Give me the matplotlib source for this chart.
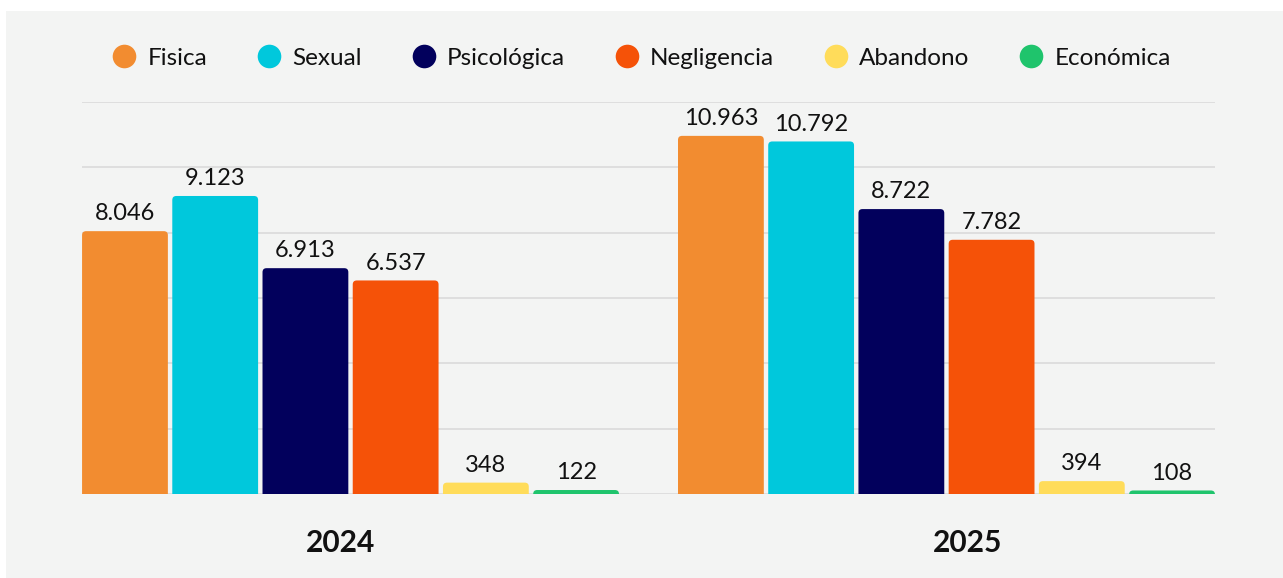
import numpy as np
import matplotlib.pyplot as plt
from matplotlib.lines import Line2D
from matplotlib.patches import Rectangle, FancyBboxPatch

plt.rcParams['font.family'] = ['Lato', 'DejaVu Sans']

# data
years = ["2024", "2025"]
categories = ["Fisica", "Sexual", "Psicológica", "Negligencia", "Abandono", "Económica"]
fisica = [8046, 10963]
sexual = [9123, 10792]
psicologica = [6913, 8722]
negligencia = [6537, 7782]
abandono = [348, 394]
economica = [122, 108]
colors = ["#f28c30", "#00c8dc", "#02005c", "#f55208", "#ffdc5a", "#1fc46c"]

series = [fisica, sexual, psicologica, negligencia, abandono, economica]

fig = plt.figure(figsize=(12.83, 5.78), dpi=100)
fig.patch.set_facecolor("white")
# light gray panel behind everything
fig.patches.append(Rectangle((6 / 1283, 0), 1, 1 - 11 / 578, transform=fig.transFigure,
                             facecolor="#f3f4f3", edgecolor="none", zorder=-1))

ax = fig.add_axes([82 / 1283, 1 - 494 / 578, (1215 - 82) / 1283, (494 - 102) / 578])
ax.set_facecolor("none")
ax.set_zorder(2)

x = np.arange(len(years))
step = 0.1514
width = 0.144
ylim = 12000

# px per data unit, used to get round corners of the same size on both axes
px_x = (1215 - 82) / (1 + 2 * 0.4506)
px_y = (494 - 102) / ylim
r = 4 / px_x

for i, (vals, col) in enumerate(zip(series, colors)):
    pos = x + (i - 2.5) * step
    bars = ax.bar(pos, vals, width, color=col, alpha=0)
    for b, v in zip(bars, vals):
        ry = 4 / px_y
        p = FancyBboxPatch((b.get_x(), -ry), b.get_width(), v + ry,
                           boxstyle=f"round,pad=0,rounding_size={r}",
                           mutation_aspect=px_x / px_y,
                           facecolor=col, edgecolor="none", zorder=3)
        ax.add_patch(p)
        ax.annotate(f"{v:,}".replace(",", "."), (b.get_x() + b.get_width() / 2, v),
                    xytext=(0, 5), textcoords="offset points", ha="center", va="bottom",
                    fontsize=17, color="#111111")

ax.set_xlim(-0.4506, 1.4506)
ax.set_ylim(0, ylim)
ax.set_yticks(np.arange(0, ylim + 1, 2000))
ax.yaxis.grid(True, color="#dcdcdc", linewidth=1.3)
ax.set_axisbelow(True)
ax.tick_params(axis="y", left=False, labelleft=False)
ax.tick_params(axis="x", length=0, pad=25)
# year labels sit a little off the group centres in the original
ax.set_xticks(x + np.array([-0.016, 0.035]))
ax.set_xticklabels(years, fontsize=21.5, fontweight="bold", color="#111111")
for s in ax.spines.values():
    s.set_visible(False)

handles = [Line2D([], [], marker="o", linestyle="none", markersize=17,
                  markerfacecolor=c, markeredgecolor="none") for c in colors]
fig.legend(handles, categories, loc="center", bbox_to_anchor=(0.5, 1 - 58 / 578),
           ncol=6, frameon=False, fontsize=17.5, handlelength=1.0, handletextpad=0.45,
           columnspacing=2.05, labelcolor="#111111")

fig.savefig("out.png", dpi=100, facecolor=fig.get_facecolor())
